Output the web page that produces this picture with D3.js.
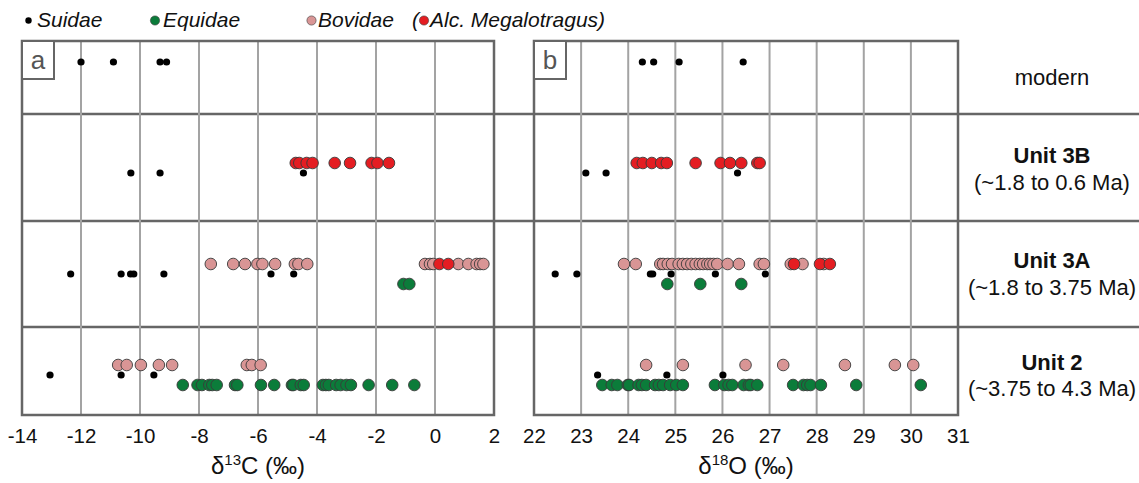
<!DOCTYPE html>
<html>
<head>
<meta charset="utf-8">
<script src="https://cdn.jsdelivr.net/npm/d3@7"></script>
<style>
  html, body { margin: 0; padding: 0; background: #fff; }
  svg { display: block; font-family: "Liberation Sans", Arial, sans-serif; }
</style>
</head>
<body>
<svg id="chart" width="1139" height="483"></svg>
<script>
// Stratigraphic units (top to bottom)
const units = ["modern", "Unit 3B", "Unit 3A", "Unit 2"];
const unitAges = ["", "(~1.8 to 0.6 Ma)", "(~1.8 to 3.75 Ma)", "(~3.75 to 4.3 Ma)"];

// Tick labels
const carbonTicks = [-14, -12, -10, -8, -6, -4, -2, 0, 2];
const oxygenTicks = [22, 23, 24, 25, 26, 27, 28, 29, 30, 31];

// δ13C (‰) per unit: [modern, 3B, 3A, 2]
const carbonSuidae = [
  [-12.0, -10.9, -9.32, -9.1],
  [-10.31, -9.32, -4.46],
  [-12.35, -10.64, -10.32, -10.21, -9.19, -5.56, -4.79],
  [-13.05, -10.64, -9.53]
];
const carbonBovidae = [
  [],
  [],
  [-7.6, -6.84, -6.44, -6.02, -5.85, -5.42, -4.75, -4.63, -4.33,
   -0.34, -0.17, -0.06, 0.79, 1.13, 1.41, 1.53, 1.64],
  [-10.74, -10.45, -9.97, -9.36, -8.91, -6.38, -6.21, -5.91]
];
const carbonMegalotragus = [
  [],
  [-4.72, -4.6, -4.35, -4.15, -3.4, -2.88, -2.15, -1.95, -1.56],
  [0.15, 0.45],
  []
];
const carbonEquidae = [
  [],
  [],
  [-1.07, -0.87],
  [-8.55, -8.05, -7.9, -7.65, -7.55, -7.4, -6.78, -6.7, -5.9, -5.45, -4.85, -4.8,
   -4.55, -4.45, -3.8, -3.7, -3.6, -3.35, -3.2, -3.0, -2.85, -2.25, -1.45, -0.7]
];

// δ18O (‰) per unit: [modern, 3B, 3A, 2]
const oxygenSuidae = [
  [24.3, 24.54, 25.08, 26.44],
  [23.1, 23.53, 26.32],
  [22.45, 22.91, 24.47, 24.52, 24.91, 25.85, 26.91],
  [23.35, 24.82, 26.01]
];
const oxygenBovidae = [
  [],
  [],
  [23.91, 24.16, 24.68, 24.74, 24.84, 24.93, 25.07, 25.16, 25.25, 25.34, 25.43, 25.52,
   25.59, 25.68, 25.74, 25.81, 25.89, 26.11, 26.35, 26.79, 26.88, 27.45, 27.7, 28.15],
  [24.38, 25.16, 26.49, 27.29, 28.6, 29.66, 30.05]
];
const oxygenMegalotragus = [
  [],
  [24.18, 24.31, 24.5, 24.7, 24.82, 25.43, 25.96, 26.16, 26.4, 26.74, 26.79],
  [27.52, 28.07, 28.28],
  []
];
const oxygenEquidae = [
  [],
  [],
  [24.83, 25.53, 26.4],
  [23.45, 23.65, 23.77, 23.99, 24.02, 24.22, 24.29, 24.38, 24.57, 24.65, 24.74, 24.89,
   25.02, 25.16, 25.84, 26.04, 26.13, 26.21, 26.45, 26.56, 26.6, 26.74,
   27.5, 27.72, 27.8, 27.87, 28.09, 28.84, 30.21]
];

// Taxon names for the legend
const taxa = ["Suidae", "Equidae", "Bovidae", "Alc. Megalotragus"];

// ---- layout ----
const svg = d3.select("#chart");
const plotTop = 41, plotBottom = 415;
const rowEdges = [41, 114, 221, 327, 415];
const rowBaseline = d3.scaleOrdinal().domain(units).range([62, 173, 274, 375]);
const taxonOffset = d3.scaleOrdinal().domain(taxa).range([0, 10, -10, -10]);
const fillColor = d3.scaleOrdinal().domain(taxa).range(["#000000", "#0b7c3a", "#d99595", "#e41d22"]);
const borderColor = "#666666", gridColor = "#a3a3a3";

const xC = d3.scaleLinear().domain([-14, 2]).range([22, 494]);
const xO = d3.scaleLinear().domain([22, 31]).range([534, 958]);

function flatten(rowsArr, taxon) {
  const out = [];
  rowsArr.forEach((vals, i) => vals.forEach(v => out.push({ unit: units[i], value: v, taxon })));
  return out;
}

function drawPanel(x, ticks, letter, series, title, sup) {
  const [x0, x1] = x.range();
  const g = svg.append("g");

  // vertical gridlines
  g.selectAll("line.grid")
    .data(ticks.slice(1, -1))
    .join("line")
    .attr("x1", d => x(d)).attr("x2", d => x(d))
    .attr("y1", plotTop).attr("y2", plotBottom)
    .attr("stroke", gridColor).attr("stroke-width", 2);

  // panel frame
  g.append("rect")
    .attr("x", x0).attr("y", plotTop).attr("width", x1 - x0).attr("height", plotBottom - plotTop)
    .attr("fill", "none").attr("stroke", borderColor).attr("stroke-width", 2.5);

  // letter box
  g.append("rect")
    .attr("x", x0).attr("y", plotTop).attr("width", 32).attr("height", 38)
    .attr("fill", "#fff").attr("stroke", borderColor).attr("stroke-width", 2);
  g.append("text")
    .attr("x", x0 + 16).attr("y", plotTop + 28)
    .attr("text-anchor", "middle")
    .attr("font-size", 26).attr("fill", "#555")
    .text(letter);

  // axis (labels only, no tick marks)
  const axis = d3.axisBottom(x).tickValues(ticks).tickSize(0).tickPadding(0)
    .tickFormat(d => d < 0 ? "-" + Math.abs(d) : String(d));
  const ag = g.append("g").attr("transform", `translate(0,${plotBottom + 13})`).call(axis);
  ag.select(".domain").remove();
  ag.selectAll("text")
    .attr("font-size", 20.5).attr("fill", "#111")
    .attr("font-family", "Liberation Sans, Arial, sans-serif")
    .attr("dy", "0.72em");

  // axis title
  const t = g.append("text")
    .attr("x", (x0 + x1) / 2).attr("y", 474)
    .attr("text-anchor", "middle")
    .attr("font-size", 24).attr("fill", "#111");
  t.append("tspan").text("δ");
  t.append("tspan").attr("font-size", 15).attr("dy", -9).text(sup);
  t.append("tspan").attr("dy", 9).text(title);

  // points
  series.forEach(s => {
    const big = s.taxon !== "Suidae";
    g.append("g").selectAll("circle")
      .data(s.data)
      .join("circle")
      .attr("cx", d => x(d.value))
      .attr("cy", d => rowBaseline(d.unit) + taxonOffset(d.taxon))
      .attr("r", big ? 5.8 : 3.6)
      .attr("fill", fillColor(s.taxon))
      .attr("stroke", big ? "#3a3a3a" : "none")
      .attr("stroke-width", 0.9);
  });
}

// row dividers spanning both panels and the unit label column
svg.selectAll("line.row")
  .data(rowEdges.slice(1, -1))
  .join("line")
  .attr("x1", 22).attr("x2", 1139)
  .attr("y1", d => d).attr("y2", d => d)
  .attr("stroke", borderColor).attr("stroke-width", 2.5);

drawPanel(xC, carbonTicks, "a", [
  { taxon: "Suidae", data: flatten(carbonSuidae, "Suidae") },
  { taxon: "Bovidae", data: flatten(carbonBovidae, "Bovidae") },
  { taxon: "Alc. Megalotragus", data: flatten(carbonMegalotragus, "Alc. Megalotragus") },
  { taxon: "Equidae", data: flatten(carbonEquidae, "Equidae") }
], "C (‰)", "13");

drawPanel(xO, oxygenTicks, "b", [
  { taxon: "Suidae", data: flatten(oxygenSuidae, "Suidae") },
  { taxon: "Bovidae", data: flatten(oxygenBovidae, "Bovidae") },
  { taxon: "Alc. Megalotragus", data: flatten(oxygenMegalotragus, "Alc. Megalotragus") },
  { taxon: "Equidae", data: flatten(oxygenEquidae, "Equidae") }
], "O (‰)", "18");

// unit labels
const labelX = 1052;
const labelY = [[85], [163, 190], [268, 295], [370, 396]];
units.forEach((u, i) => {
  const modern = i === 0;
  svg.append("text")
    .attr("x", labelX).attr("y", labelY[i][0])
    .attr("text-anchor", "middle")
    .attr("font-size", 22).attr("fill", "#111")
    .attr("font-weight", modern ? "normal" : "bold")
    .text(u);
  if (!modern) {
    svg.append("text")
      .attr("x", labelX).attr("y", labelY[i][1])
      .attr("text-anchor", "middle")
      .attr("font-size", 22).attr("fill", "#111")
      .text(unitAges[i]);
  }
});

// legend
const legend = svg.append("g").attr("font-size", 21).attr("font-style", "italic").attr("fill", "#111");
const legendItems = [
  { taxon: "Suidae", dot: 28.5, text: 37, r: 3.2 },
  { taxon: "Equidae", dot: 155, text: 163, r: 4.6 },
  { taxon: "Bovidae", dot: 311.5, text: 318, r: 4.6 },
  { taxon: "Alc. Megalotragus", dot: 424, text: 430, r: 4.6 }
];
legendItems.forEach(it => {
  legend.append("circle")
    .attr("cx", it.dot).attr("cy", 20.5).attr("r", it.r)
    .attr("fill", fillColor(it.taxon))
    .attr("stroke", it.taxon === "Suidae" ? "none" : "#3a3a3a")
    .attr("stroke-width", 0.6);
  legend.append("text")
    .attr("x", it.text).attr("y", 27)
    .text(it.taxon === "Alc. Megalotragus" ? it.taxon + ")" : it.taxon);
});
legend.append("text").attr("x", 412).attr("y", 27).text("(");
</script>
</body>
</html>
